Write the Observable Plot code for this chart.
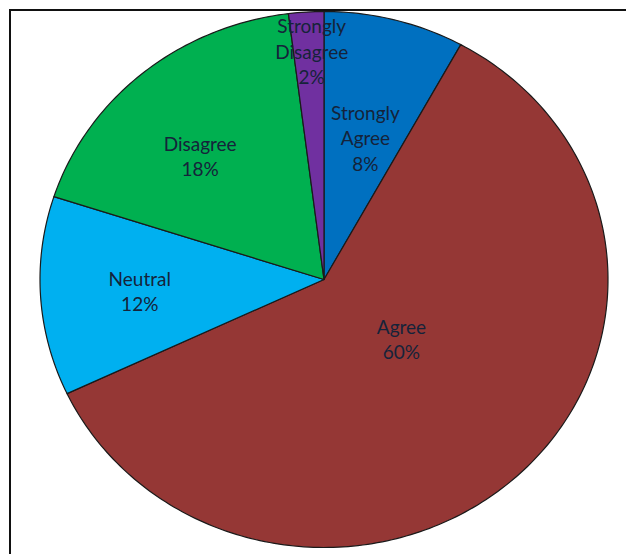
<!DOCTYPE html>
<html>
<head>
<meta charset="utf-8">
<script src="https://cdn.jsdelivr.net/npm/d3@7"></script>
<script src="https://cdn.jsdelivr.net/npm/@observablehq/plot@0.6"></script>
<style>
  html, body { margin: 0; padding: 0; background: #fff; overflow: hidden; }
  #wrap { position: relative; width: 626px; height: 554px; }
  #box { position: absolute; left: 9px; top: 9px; right: -10px; bottom: -10px;
         border-top: 2px solid #111; border-left: 2px solid #111; pointer-events: none; }
</style>
</head>
<body>
<div id="wrap"><div id="box"></div></div>
<script>
// Survey responses, clockwise from 12 o'clock
const categories = ["Strongly Agree", "Agree", "Neutral", "Disagree", "Strongly Disagree"];
const percents = [8, 60, 12, 18, 2];
const sliceColors = ["#0070C0", "#953735", "#00B0F0", "#00B050", "#7030A0"];
// label placement: distance from the centre (fraction of radius) and a small turn (degrees) off the mid-angle
const labelRadius = [0.55, 0.35, 0.65, 0.636, 0.855];
const labelTurn = [1, -8, 0, -3.7, 0.7];

const rows = categories.map((category, i) => ({
  category, value: percents[i], labelR: labelRadius[i], labelTurn: labelTurn[i]
}));
const arcs = d3.pie().sort(null).value(d => d.value).startAngle(0).endAngle(2 * Math.PI)(rows);

// outline of each slice: centre -> arc -> centre (angle measured clockwise from the top)
const slicePoints = arcs.flatMap(a => {
  const steps = Math.max(2, Math.ceil((a.endAngle - a.startAngle) / (Math.PI / 180)));
  const pts = [{category: a.data.category, x: 0, y: 0}];
  for (let k = 0; k <= steps; k++) {
    const t = a.startAngle + (a.endAngle - a.startAngle) * k / steps;
    pts.push({category: a.data.category, x: Math.sin(t), y: Math.cos(t)});
  }
  pts.push({category: a.data.category, x: 0, y: 0});
  return pts;
});

const labels = arcs.map(a => {
  const t = (a.startAngle + a.endAngle) / 2 + a.data.labelTurn * Math.PI / 180;
  const r = a.data.labelR;
  return {
    x: r * Math.sin(t),
    y: r * Math.cos(t),
    text: `${a.data.category.replace(" ", "\n")}\n${a.data.value}%`
  };
});

const chart = Plot.plot({
  width: 626,
  height: 554,
  margin: 0,
  style: {background: "transparent"},
  x: {domain: [-1, 1], range: [39.5, 607.5], axis: null},
  y: {domain: [-1, 1], range: [547, 11], axis: null},
  color: {domain: categories, range: sliceColors},
  marks: [
    Plot.line(slicePoints, {x: "x", y: "y", z: "category", fill: "category",
      stroke: "#1a1a1a", strokeWidth: 1.2, strokeLinejoin: "round"}),
    Plot.text(labels, {x: "x", y: "y", text: "text", fontSize: 19, lineHeight: 1.33,
      fontFamily: "Lato", fill: "#15233a"})
  ]
});
document.getElementById("wrap").insertBefore(chart, document.getElementById("box"));
</script>
</body>
</html>
